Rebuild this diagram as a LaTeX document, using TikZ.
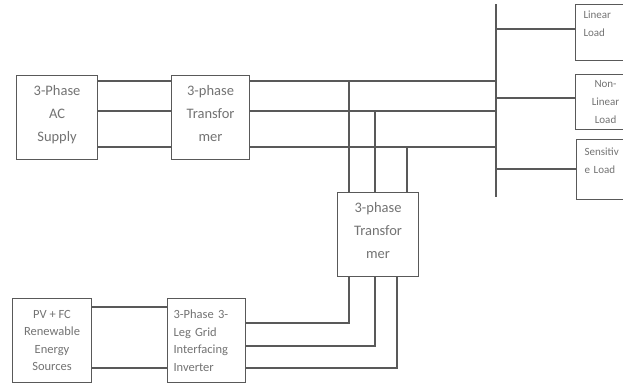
\documentclass[tikz,border=0pt]{standalone}
\usepackage{fontspec}
\setmainfont{Carlito}
\begin{document}
\begin{tikzpicture}[x=1pt,y=-1pt,
  box/.style={draw=black!65,line width=1.1pt,rectangle,inner sep=0pt,anchor=north west,text=black!55,align=center},
  big/.style={font=\fontsize{14.5}{23}\selectfont},
  mid/.style={font=\fontsize{12.5}{17.5}\selectfont},
  small/.style={font=\fontsize{11}{18}\selectfont},
  wire/.style={draw=black!65,line width=1.1pt}]
\clip (0,0) rectangle (623,383);
\fill[white] (0,0) rectangle (623,383);
\node[box,big,minimum width=81pt,minimum height=84pt] (ac) at (16,75) {3-Phase\\AC\\Supply\\[-15pt]\mbox{}};
\node[box,big,minimum width=78pt,minimum height=84pt] (tra) at (171,75) {3-phase\\Transfor\\mer\\[-15pt]\mbox{}};
\node[box,big,minimum width=81pt,minimum height=84pt] (trb) at (337,192) {3-phase\\Transfor\\mer\\[-15pt]\mbox{}};
\node[box,mid,minimum width=79pt,minimum height=84pt] (pv) at (12,298) {PV + FC\\Renewable\\Energy\\Sources};
\node[box,mid,minimum width=78pt,minimum height=84pt,align=left,text width=66pt] (inv) at (167,298) {3-Phase 3-\\Leg Grid\\Interfacing\\Inverter};
\node[box,small,minimum width=60pt,minimum height=56pt,align=left,text width=44pt] (la) at (575,4) {Linear\\Load\\\mbox{}};
\node[box,small,minimum width=60pt,minimum height=55pt,text width=44pt] (lb) at (575,74) {Non-\\Linear\\Load};
\node[box,small,minimum width=60pt,minimum height=60pt,align=left,text width=44pt] (lc) at (576,139) {Sensitiv\\e Load\\\mbox{}};
% bus
\coordinate (bt) at (496,4);
\coordinate (bb) at (496,197);
\draw[wire] (bt) -- (bb);
% supply to transformer
\draw[wire] (ac.east |- 0,81) -- (tra.west |- 0,81);
\draw[wire] (ac.east |- 0,111) -- (tra.west |- 0,111);
\draw[wire] (ac.east |- 0,147) -- (tra.west |- 0,147);
% transformer to bus
\draw[wire] (tra.east |- 0,81) -- (bt |- 0,81);
\draw[wire] (tra.east |- 0,111) -- (bt |- 0,111);
\draw[wire] (tra.east |- 0,147) -- (bt |- 0,147);
% taps down to second transformer
\draw[wire] (349,81) -- (trb.north -| 349,0);
\draw[wire] (375,111) -- (trb.north -| 375,0);
\draw[wire] (407,147) -- (trb.north -| 407,0);
% second transformer to inverter
\draw[wire] (trb.south -| 349,0) -- (349,323) -- (inv.east |- 0,323);
\draw[wire] (trb.south -| 375,0) -- (375,346) -- (inv.east |- 0,346);
\draw[wire] (trb.south -| 397,0) -- (397,368) -- (inv.east |- 0,368);
% pv to inverter
\draw[wire] (pv.east |- 0,307) -- (inv.west |- 0,307);
\draw[wire] (pv.east |- 0,368) -- (inv.west |- 0,368);
% bus to loads
\draw[wire] (bt |- 0,29) -- (la.west |- 0,29);
\draw[wire] (bt |- 0,98) -- (lb.west |- 0,98);
\draw[wire] (bt |- 0,169) -- (lc.west |- 0,169);
\end{tikzpicture}
\end{document}
